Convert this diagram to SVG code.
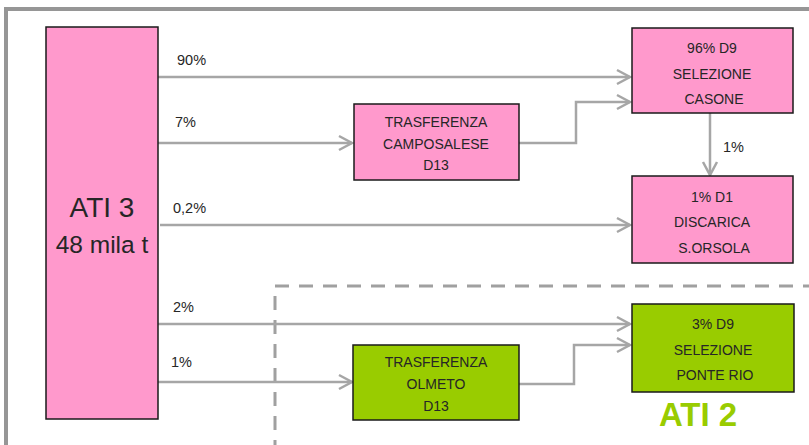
<svg xmlns="http://www.w3.org/2000/svg" width="809" height="445" viewBox="0 0 809 445">
<defs>
<marker id="arr" markerUnits="userSpaceOnUse" markerWidth="20" markerHeight="20" refX="14" refY="8" orient="auto" viewBox="0 0 20 16">
<polyline points="1,1 14,8 1,15" fill="none" stroke="#A6A6A6" stroke-width="2.5"/>
</marker>
<style>
.pink{fill:#FF99CC;stroke:#1a1a1a;stroke-width:1.5}
.green{fill:#99CC00;stroke:#1a1a1a;stroke-width:1.5}
.t{font-family:"Liberation Sans",Arial,sans-serif;font-size:14px;fill:#262626;text-anchor:middle}
.lbl{font-family:"Liberation Sans",Arial,sans-serif;font-size:14.5px;fill:#262626}
.c{fill:none;stroke:#A6A6A6;stroke-width:2.5}
</style>
</defs>
<rect width="809" height="445" fill="#FFFFFF"/>
<rect x="6" y="9" width="900" height="500" fill="none" stroke="#969696" stroke-width="4"/>
<rect x="275" y="286" width="600" height="300" fill="none" stroke="#A0A0A0" stroke-width="3" stroke-dasharray="14 10"/>

<g id="connectors">
<path class="c" d="M158,77 H630" marker-end="url(#arr)"/>
<path class="c" d="M158,143 H352" marker-end="url(#arr)"/>
<path class="c" d="M519,143 H576 V102 H630" marker-end="url(#arr)"/>
<path class="c" d="M710,113 V175" marker-end="url(#arr)"/>
<path class="c" d="M160,225 H630" marker-end="url(#arr)"/>
<path class="c" d="M158,324 H630" marker-end="url(#arr)"/>
<path class="c" d="M158,382 H352" marker-end="url(#arr)"/>
<path class="c" d="M519,384 H574 V345 H630" marker-end="url(#arr)"/>
<text class="lbl" x="177" y="65">90%</text>
<text class="lbl" x="175" y="127">7%</text>
<text class="lbl" x="173" y="213">0,2%</text>
<text class="lbl" x="723" y="152">1%</text>
<text class="lbl" x="173" y="312">2%</text>
<text class="lbl" x="171" y="367">1%</text>
</g>

<g id="ati3">
<rect class="pink" x="46" y="27" width="112" height="392"/>
<text class="t" x="102" y="217" style="font-size:28px">ATI 3</text>
<text class="t" x="102" y="253" style="font-size:24.5px">48 mila t</text>
</g>

<g id="casone">
<rect class="pink" x="632" y="28" width="161" height="85"/>
<text class="t" x="712" y="53">96% D9</text>
<text class="t" x="712" y="79">SELEZIONE</text>
<text class="t" x="714" y="104">CASONE</text>
</g>

<g id="camposalese">
<rect class="pink" x="354" y="104" width="165" height="76"/>
<text class="t" x="436" y="127">TRASFERENZA</text>
<text class="t" x="436" y="149">CAMPOSALESE</text>
<text class="t" x="436" y="170">D13</text>
</g>

<g id="discarica">
<rect class="pink" x="632" y="176" width="161" height="87"/>
<text class="t" x="712" y="202">1% D1</text>
<text class="t" x="712" y="227">DISCARICA</text>
<text class="t" x="714" y="253">S.ORSOLA</text>
</g>

<g id="ponterio">
<rect class="green" x="632" y="304" width="162" height="88"/>
<text class="t" x="713" y="329">3% D9</text>
<text class="t" x="713" y="355">SELEZIONE</text>
<text class="t" x="715" y="380">PONTE RIO</text>
</g>

<g id="olmeto">
<rect class="green" x="353" y="345" width="166" height="75"/>
<text class="t" x="436" y="367">TRASFERENZA</text>
<text class="t" x="436" y="389">OLMETO</text>
<text class="t" x="436" y="411">D13</text>
</g>

<g id="ati2">
<text x="698" y="426" style="font-family:'Liberation Sans',Arial,sans-serif;font-size:33px;font-weight:bold;fill:#99CC00;text-anchor:middle">ATI 2</text>
</g>
</svg>
